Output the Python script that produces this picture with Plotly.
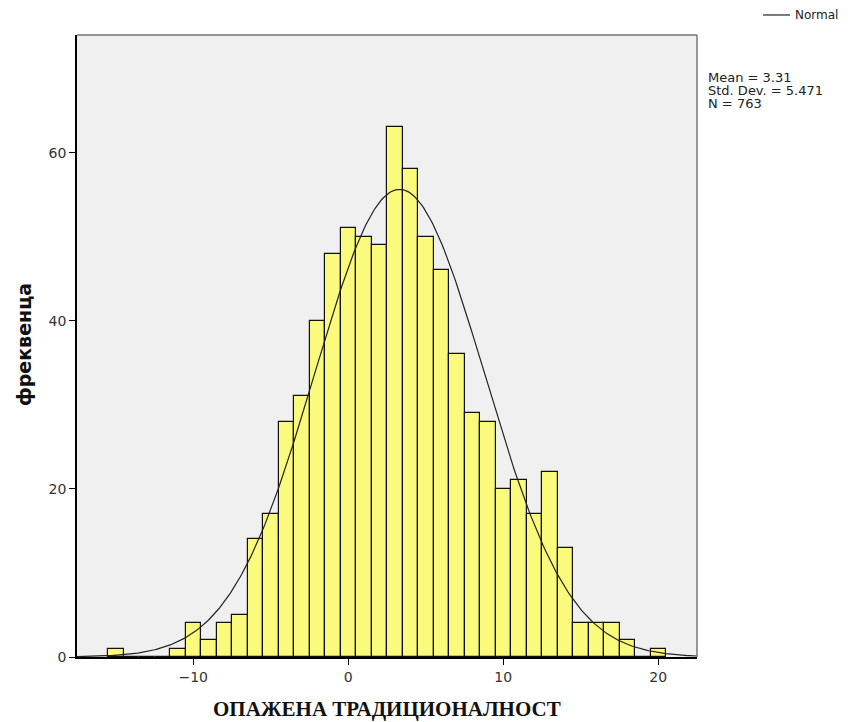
import numpy as np
import plotly.graph_objects as go

# Data (bin centers, width 1)
bin_centers = [-15, -14, -13, -12, -11, -10, -9, -8, -7, -6, -5, -4, -3, -2, -1,
               0, 1, 2, 3, 4, 5, 6, 7, 8, 9, 10, 11, 12, 13, 14, 15, 16, 17, 18, 19, 20]
counts = [1, 0, 0, 0, 1, 4, 2, 4, 5, 14, 17, 28, 31, 40, 48,
          51, 50, 49, 63, 58, 50, 46, 36, 29, 28, 20, 21, 17, 22, 13, 4, 4, 4, 2, 0, 1]
mean_val = 3.31
std_val = 5.471
n_val = 763
bin_width = 1.0
x_ticks = [-10, 0, 10, 20]
y_ticks = [0, 20, 40, 60]
curve_name = "Normal"

# Fitted normal curve from the reported statistics
xc = np.linspace(-17.5, 22.5, 400)
yc = n_val * bin_width / (std_val * np.sqrt(2 * np.pi)) * np.exp(-0.5 * ((xc - mean_val) / std_val) ** 2)

SANS = "DejaVu Sans, Verdana, sans-serif"

fig = go.Figure()
fig.add_trace(go.Bar(
    x=bin_centers, y=counts, width=bin_width,
    marker=dict(color="#fafa7c", line=dict(color="#111111", width=1.2)),
    showlegend=False, name="фреквенца",
))
fig.add_trace(go.Scatter(
    x=xc, y=yc, mode="lines", name=curve_name,
    line=dict(color="#222222", width=1.2), showlegend=False,
))

fig.update_layout(
    width=840, height=714,
    margin=dict(l=69, r=151, t=27, b=65),
    paper_bgcolor="white", plot_bgcolor="#f0f0f0",
    font=dict(family=SANS, size=13, color="#333333"),
    bargap=0,
    xaxis=dict(range=[-17.5, 22.5], tickvals=x_ticks, ticks="outside", ticklen=6,
               tickcolor="black", showline=True, linecolor="black", linewidth=1.5,
               showgrid=False, zeroline=False,
               tickfont=dict(family=SANS, size=14, color="#333333")),
    yaxis=dict(range=[0, 74], tickvals=y_ticks, ticks="outside", ticklen=6,
               tickcolor="black", showline=True, linecolor="black", linewidth=1.5,
               showgrid=False, zeroline=False,
               tickfont=dict(family=SANS, size=14, color="#333333")),
    shapes=[
        dict(type="line", xref="paper", yref="paper", x0=0, x1=1, y0=1, y1=1,
             line=dict(color="#777777", width=1.5)),
        dict(type="line", xref="paper", yref="paper", x0=1, x1=1, y0=0, y1=1,
             line=dict(color="#777777", width=1.5)),
        # legend key for the normal curve
        dict(type="line", xref="paper", yref="paper", x0=1.1065, x1=1.15,
             y0=1.0322, y1=1.0322, line=dict(color="#222222", width=1.2)),
    ],
    annotations=[
        dict(text=curve_name, xref="paper", yref="paper",
             x=1.1548, y=1.0322, xanchor="left", yanchor="middle", showarrow=False,
             font=dict(family=SANS, size=12, color="#222222")),
        dict(text="<b>ОПАЖЕНА ТРАДИЦИОНАЛНОСТ</b>", xref="paper", yref="paper",
             x=0.5, y=-0.0844, xanchor="center", yanchor="middle", showarrow=False,
             font=dict(family="Liberation Serif, Times New Roman, serif", size=21,
                       color="#111111")),
        dict(text="<b>фреквенца</b>", xref="paper", yref="paper",
             x=-0.0855, y=0.503, xanchor="center", yanchor="middle", showarrow=False,
             textangle=-90,
             font=dict(family=SANS, size=19, color="#111111")),
        dict(text=f"Mean = {mean_val}", xref="paper", yref="paper",
             x=1.0145, y=(657 - 77) / 622, xanchor="left", yanchor="middle",
             showarrow=False, font=dict(family=SANS, size=13, color="#222222")),
        dict(text=f"Std. Dev. = {std_val}", xref="paper", yref="paper",
             x=1.0145, y=(657 - 90) / 622, xanchor="left", yanchor="middle",
             showarrow=False, font=dict(family=SANS, size=13, color="#222222")),
        dict(text=f"N = {n_val}", xref="paper", yref="paper",
             x=1.0145, y=(657 - 103) / 622, xanchor="left", yanchor="middle",
             showarrow=False, font=dict(family=SANS, size=13, color="#222222")),
    ],
)

fig.write_html("out.html")
